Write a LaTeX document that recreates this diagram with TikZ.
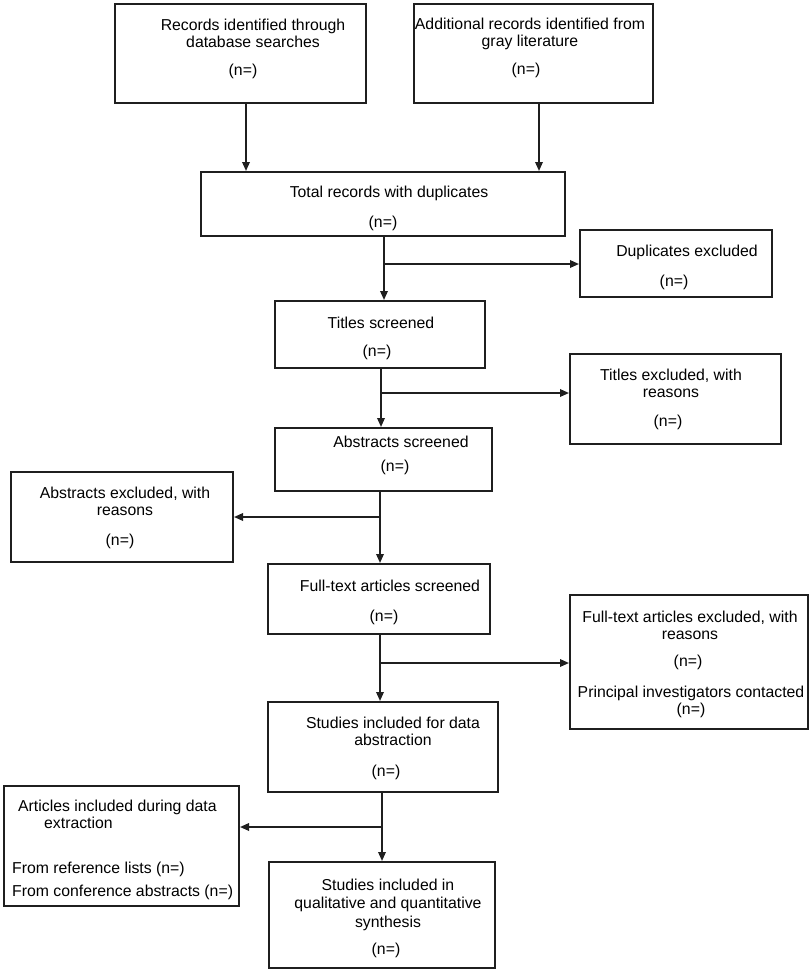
\documentclass[tikz,border=0pt]{standalone}
\usepackage{fontspec}
\setmainfont{Liberation Sans}
\usetikzlibrary{arrows.meta}
\tikzset{
  box/.style={draw=black!88, line width=2pt, inner sep=0pt, rectangle},
  txt/.style={inner sep=0pt, align=center, text=black, font=\fontsize{15.8}{17}\selectfont},
  ltxt/.style={inner sep=0pt, anchor=west, text=black, font=\fontsize{15.8}{17}\selectfont},
  arr/.style={draw=black!88, line width=1.7pt, -{Triangle[length=9pt,width=7.5pt]}},
  ln/.style={draw=black!88, line width=1.7pt}
}
\begin{document}
\begin{tikzpicture}[x=1pt,y=-1pt]
\useasboundingbox (0,0) rectangle (810,972);
% boxes
\node[box, minimum width=251pt, minimum height=99pt] (rec) at (240.5,53.5) {};
\node[box, minimum width=239pt, minimum height=99pt] (add) at (533.5,53.5) {};
\node[box, minimum width=364pt, minimum height=64pt] (total) at (383,204) {};
\node[box, minimum width=192pt, minimum height=67pt] (dup) at (676,263.5) {};
\node[box, minimum width=210pt, minimum height=67pt] (titles) at (380,334.5) {};
\node[box, minimum width=211pt, minimum height=90pt] (titex) at (675.5,399) {};
\node[box, minimum width=217pt, minimum height=63pt] (abs) at (383.5,459.5) {};
\node[box, minimum width=222pt, minimum height=90pt] (absex) at (122,517) {};
\node[box, minimum width=222pt, minimum height=70pt] (full) at (379,599) {};
\node[box, minimum width=238pt, minimum height=134pt] (fullex) at (689,662) {};
\node[box, minimum width=230pt, minimum height=90pt] (stud) at (383,747) {};
\node[box, minimum width=235pt, minimum height=120pt] (art) at (121.5,846) {};
\node[box, minimum width=226pt, minimum height=106pt] (final) at (382,915) {};
% texts
\node[txt] (t1) at (253,33.5) {Records identified through\\database searches};
\node[txt] (t1n) at (243,71) {(n=)};
\node[txt] (t2) at (530,33.5) {Additional records identified from\\gray literature};
\node[txt] (t2n) at (526,70) {(n=)};
\node[txt] (t3) at (389,193) {Total records with duplicates};
\node[txt] (t3n) at (383,223) {(n=)};
\node[txt] (t4) at (687,252) {Duplicates excluded};
\node[txt] (t4n) at (674,282) {(n=)};
\node[txt] (t5) at (381,323) {Titles screened};
\node[txt] (t5n) at (377,352) {(n=)};
\node[txt] (t6) at (671,383.5) {Titles excluded, with\\reasons};
\node[txt] (t6n) at (668,422) {(n=)};
\node[txt] (t7) at (401,442) {Abstracts screened};
\node[txt] (t7n) at (395,467) {(n=)};
\node[txt] (t8) at (125,501.5) {Abstracts excluded, with\\reasons};
\node[txt] (t8n) at (120,541) {(n=)};
\node[txt] (t9) at (390,586) {Full-text articles screened};
\node[txt] (t9n) at (384,617) {(n=)};
\node[txt] (t10) at (690,625) {Full-text articles excluded, with\\reasons};
\node[txt] (t10n) at (688,662) {(n=)};
\node[txt] (t10b) at (691,701.5) {Principal investigators contacted\\(n=)};
\node[txt] (t11) at (393,731.5) {Studies included for data\\abstraction};
\node[txt] (t11n) at (386,772) {(n=)};
\node[ltxt] (t12a) at (18,807) {Articles included during data};
\node[ltxt] (t12b) at (44,823) {extraction};
\node[ltxt] (t12c) at (12,869) {From reference lists (n=)};
\node[ltxt] (t12d) at (12,892) {From conference abstracts (n=)};
\node[txt] (t13) at (388,904.5) {Studies included in\\[1.5pt]qualitative and quantitative\\[1.5pt]synthesis};
\node[txt] (t13n) at (386,950) {(n=)};
% connector columns
\coordinate (c1) at (246,0);
\coordinate (c2) at (539,0);
\draw[arr] (rec.south -| c1) -- (total.north -| c1);
\draw[arr] (add.south -| c2) -- (total.north -| c2);
\coordinate (k1) at (384,0);
\coordinate (k2) at (381,0);
\coordinate (k3) at (380,0);
\coordinate (k5) at (382,0);
\draw[arr] (total.south -| k1) -- (titles.north -| k1);
\draw[arr] (titles.south -| k2) -- (abs.north -| k2);
\draw[arr] (abs.south -| k3) -- (full.north -| k3);
\draw[arr] (full.south -| k3) -- (stud.north -| k3);
\draw[arr] (stud.south -| k5) -- (final.north -| k5);
% branches
\coordinate (b1) at (384,264);
\coordinate (b2) at (381,393);
\coordinate (b3) at (380,517);
\coordinate (b4) at (380,663);
\coordinate (b5) at (382,827);
\draw[arr] (b1) -- (b1 -| dup.west);
\draw[arr] (b2) -- (b2 -| titex.west);
\draw[arr] (b3) -- (b3 -| absex.east);
\draw[arr] (b4) -- (b4 -| fullex.west);
\draw[arr] (b5) -- (b5 -| art.east);
\end{tikzpicture}
\end{document}
